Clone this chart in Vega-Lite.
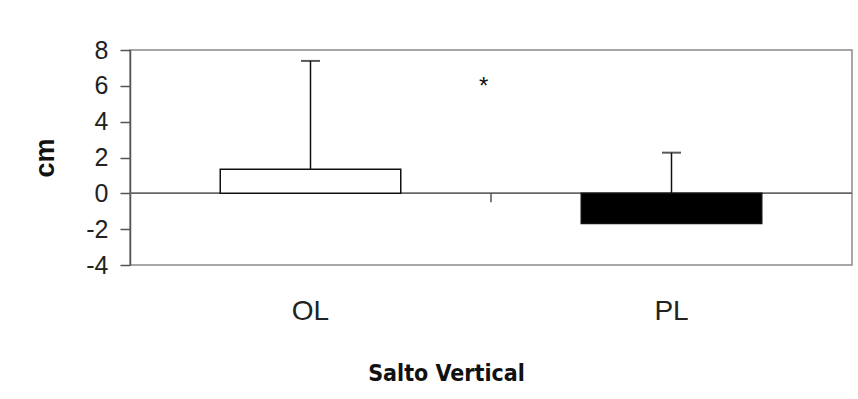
{
  "$schema": "https://vega.github.io/schema/vega-lite/v6.json",
  "width": 722,
  "height": 215,
  "autosize": {"type": "none"},
  "padding": {"left": 130, "top": 50, "right": 6, "bottom": 134},
  "background": "white",
  "config": {
    "view": {"stroke": "#8a8a8a", "strokeWidth": 1.5},
    "font": "Liberation Sans",
    "axisY": {
      "grid": false,
      "labelOverlap": false,
      "domainColor": "#555555",
      "domainWidth": 1.5,
      "tickColor": "#555555",
      "tickWidth": 1.5,
      "tickSize": 10,
      "labelFont": "Liberation Sans",
      "labelFontSize": 25,
      "labelColor": "#222222",
      "labelPadding": 12,
      "titleFont": "Liberation Sans",
      "titleFontSize": 27,
      "titleFontWeight": "bold",
      "titleColor": "#111111",
      "titleX": -85,
      "titleY": 107.5,
      "titleBaseline": "middle",
      "titleAlign": "center"
    }
  },
  "datasets": {
    "bars": [
      {"group": "OL", "mean": 1.34, "upper": 7.39},
      {"group": "PL", "mean": -1.68, "upper": 2.27}
    ],
    "marks": [
      {"pos": 1.0, "y": 0, "y2": -0.5}
    ],
    "notes": [
      {"pos": 0.98, "y": 5.55, "label": "*"}
    ]
  },
  "resolve": {"scale": {"x": "independent"}, "axis": {"x": "independent"}},
  "layer": [
    {
      "data": {"name": "bars"},
      "encoding": {
        "x": {
          "field": "group",
          "type": "nominal",
          "sort": ["OL", "PL"],
          "scale": {"paddingInner": 0.5, "paddingOuter": 0.25},
          "axis": {
            "orient": "bottom",
            "domain": false,
            "ticks": false,
            "tickSize": 0,
            "labelAngle": 0,
            "labelFont": "Liberation Sans",
            "labelFontSize": 28,
            "labelColor": "#222222",
            "labelBaseline": "alphabetic",
            "labelPadding": 54,
            "title": "Salto Vertical",
            "titleFont": "DejaVu Sans Condensed, Liberation Sans Narrow, Arial Narrow, Liberation Sans",
            "titleFontSize": 23,
            "titleFontWeight": "bold",
            "titleColor": "#111111",
            "titleX": 316,
            "titleY": 115,
            "titleAlign": "center",
            "titleBaseline": "alphabetic"
          }
        }
      },
      "layer": [
        {
          "mark": {"type": "rule", "color": "#666666", "strokeWidth": 1.5},
          "encoding": {
            "y": {
              "datum": 0,
              "type": "quantitative",
              "title": "cm",
              "scale": {"domain": [-4, 8], "nice": false, "zero": false},
              "axis": {
                "values": [-4, -2, 0, 2, 4, 6, 8],
                "labelExpr": "datum.value < 0 ? '-' + abs(datum.value) : '' + datum.value"
              }
            },
            "x": null
          }
        },
        {
          "mark": {"type": "rule", "color": "#111111", "strokeWidth": 1.5},
          "encoding": {
            "y": {
              "field": "mean",
              "type": "quantitative",
              "title": "cm",
              "axis": {
                "values": [-4, -2, 0, 2, 4, 6, 8],
                "labelExpr": "datum.value < 0 ? '-' + abs(datum.value) : '' + datum.value"
              }
            },
            "y2": {"field": "upper"}
          }
        },
        {
          "mark": {"type": "bar", "stroke": "#111111", "strokeWidth": 1.5},
          "encoding": {
            "y": {
              "field": "mean",
              "type": "quantitative",
              "title": "cm",
              "scale": {"domain": [-4, 8], "nice": false, "zero": false},
              "axis": {
                "values": [-4, -2, 0, 2, 4, 6, 8],
                "labelExpr": "datum.value < 0 ? '-' + abs(datum.value) : '' + datum.value"
              }
            },
            "fill": {
              "field": "group",
              "type": "nominal",
              "scale": {"domain": ["OL", "PL"], "range": ["#ffffff", "#000000"]},
              "legend": null
            }
          }
        },
        {
          "mark": {"type": "tick", "color": "#111111", "thickness": 2, "size": 19, "orient": "horizontal"},
          "encoding": {
            "y": {
              "field": "upper",
              "type": "quantitative",
              "title": "cm",
              "axis": {
                "values": [-4, -2, 0, 2, 4, 6, 8],
                "labelExpr": "datum.value < 0 ? '-' + abs(datum.value) : '' + datum.value"
              }
            }
          }
        }
      ]
    },
    {
      "encoding": {
        "x": {
          "field": "pos",
          "type": "quantitative",
          "scale": {"domain": [0, 2], "nice": false, "zero": false},
          "axis": null
        }
      },
      "layer": [
        {
          "data": {"name": "marks"},
          "mark": {"type": "rule", "color": "#555555", "strokeWidth": 1.5},
          "encoding": {
            "y": {
              "field": "y",
              "type": "quantitative",
              "title": "cm",
              "axis": {
                "values": [-4, -2, 0, 2, 4, 6, 8],
                "labelExpr": "datum.value < 0 ? '-' + abs(datum.value) : '' + datum.value"
              }
            },
            "y2": {"field": "y2"}
          }
        },
        {
          "data": {"name": "notes"},
          "mark": {"type": "text", "fontSize": 24, "baseline": "alphabetic", "align": "center", "color": "#111111", "font": "Liberation Sans"},
          "encoding": {
            "y": {
              "field": "y",
              "type": "quantitative",
              "title": "cm",
              "axis": {
                "values": [-4, -2, 0, 2, 4, 6, 8],
                "labelExpr": "datum.value < 0 ? '-' + abs(datum.value) : '' + datum.value"
              }
            },
            "text": {"field": "label"}
          }
        }
      ]
    }
  ]
}
